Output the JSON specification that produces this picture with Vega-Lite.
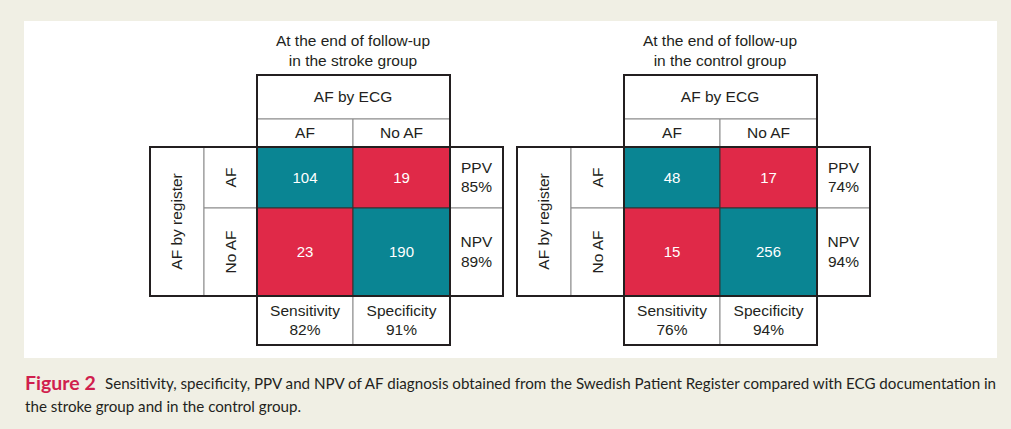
{
  "$schema": "https://vega.github.io/schema/vega-lite/v6.json",
  "width": 973,
  "height": 337,
  "autosize": {"type": "none"},
  "padding": {"left": 24, "top": 21, "right": 14, "bottom": 71},
  "background": "#f0efe4",
  "view": {"fill": "white", "stroke": null},
  "datasets": {
    "cells": [
      {"group": "stroke", "ecg": "AF", "register": "AF", "n": 104, "agree": "yes", "c": 2, "c2": 3, "r": 2, "r2": 3, "xm": 2.5, "ym": 2.5},
      {"group": "stroke", "ecg": "No AF", "register": "AF", "n": 19, "agree": "no", "c": 3, "c2": 4, "r": 2, "r2": 3, "xm": 3.5, "ym": 2.5},
      {"group": "stroke", "ecg": "AF", "register": "No AF", "n": 23, "agree": "no", "c": 2, "c2": 3, "r": 3, "r2": 4, "xm": 2.5, "ym": 3.5},
      {"group": "stroke", "ecg": "No AF", "register": "No AF", "n": 190, "agree": "yes", "c": 3, "c2": 4, "r": 3, "r2": 4, "xm": 3.5, "ym": 3.5},
      {"group": "control", "ecg": "AF", "register": "AF", "n": 48, "agree": "yes", "c": 12, "c2": 13, "r": 2, "r2": 3, "xm": 12.5, "ym": 2.5},
      {"group": "control", "ecg": "No AF", "register": "AF", "n": 17, "agree": "no", "c": 13, "c2": 14, "r": 2, "r2": 3, "xm": 13.5, "ym": 2.5},
      {"group": "control", "ecg": "AF", "register": "No AF", "n": 15, "agree": "no", "c": 12, "c2": 13, "r": 3, "r2": 4, "xm": 12.5, "ym": 3.5},
      {"group": "control", "ecg": "No AF", "register": "No AF", "n": 256, "agree": "yes", "c": 13, "c2": 14, "r": 3, "r2": 4, "xm": 13.5, "ym": 3.5}
    ],
    "boxes": [
      {"part": "ecg", "c": 2, "c2": 4, "r": 0, "r2": 1},
      {"part": "ecg AF", "c": 2, "c2": 3, "r": 1, "r2": 2},
      {"part": "ecg No AF", "c": 3, "c2": 4, "r": 1, "r2": 2},
      {"part": "register", "c": 0, "c2": 1, "r": 2, "r2": 4},
      {"part": "register AF", "c": 1, "c2": 2, "r": 2, "r2": 3},
      {"part": "register No AF", "c": 1, "c2": 2, "r": 3, "r2": 4},
      {"part": "PPV", "c": 4, "c2": 5, "r": 2, "r2": 3},
      {"part": "NPV", "c": 4, "c2": 5, "r": 3, "r2": 4},
      {"part": "sensitivity", "c": 2, "c2": 3, "r": 4, "r2": 5},
      {"part": "specificity", "c": 3, "c2": 4, "r": 4, "r2": 5},
      {"part": "ecg", "c": 12, "c2": 14, "r": 0, "r2": 1},
      {"part": "ecg AF", "c": 12, "c2": 13, "r": 1, "r2": 2},
      {"part": "ecg No AF", "c": 13, "c2": 14, "r": 1, "r2": 2},
      {"part": "register", "c": 10, "c2": 11, "r": 2, "r2": 4},
      {"part": "register AF", "c": 11, "c2": 12, "r": 2, "r2": 3},
      {"part": "register No AF", "c": 11, "c2": 12, "r": 3, "r2": 4},
      {"part": "PPV", "c": 14, "c2": 15, "r": 2, "r2": 3},
      {"part": "NPV", "c": 14, "c2": 15, "r": 3, "r2": 4},
      {"part": "sensitivity", "c": 12, "c2": 13, "r": 4, "r2": 5},
      {"part": "specificity", "c": 13, "c2": 14, "r": 4, "r2": 5}
    ],
    "outlines": [
      {"c": 2, "c2": 4, "r": 0, "r2": 2},
      {"c": 0, "c2": 5, "r": 2, "r2": 4},
      {"c": 2, "c2": 4, "r": 2, "r2": 4},
      {"c": 2, "c2": 4, "r": 4, "r2": 5},
      {"c": 12, "c2": 14, "r": 0, "r2": 2},
      {"c": 10, "c2": 15, "r": 2, "r2": 4},
      {"c": 12, "c2": 14, "r": 2, "r2": 4},
      {"c": 12, "c2": 14, "r": 4, "r2": 5}
    ],
    "labels": [
      {"kind": "two", "label": "At the end of follow-up\nin the stroke group", "xm": 3, "ym": -1.5},
      {"kind": "one", "label": "AF by ECG", "xm": 3, "ym": 0.5},
      {"kind": "one", "label": "AF", "xm": 2.5, "ym": 1.5},
      {"kind": "one", "label": "No AF", "xm": 3.5, "ym": 1.5},
      {"kind": "two", "label": "PPV\n85%", "xm": 4.5, "ym": 2.5},
      {"kind": "two", "label": "NPV\n89%", "xm": 4.5, "ym": 3.5},
      {"kind": "two", "label": "Sensitivity\n82%", "xm": 2.5, "ym": 4.5},
      {"kind": "two", "label": "Specificity\n91%", "xm": 3.5, "ym": 4.5},
      {"kind": "rot", "label": "AF by register", "xm": 0.5, "ym": 3.153},
      {"kind": "rot", "label": "AF", "xm": 1.5, "ym": 2.5},
      {"kind": "rot", "label": "No AF", "xm": 1.5, "ym": 3.5},
      {"kind": "two", "label": "At the end of follow-up\nin the control group", "xm": 13, "ym": -1.5},
      {"kind": "one", "label": "AF by ECG", "xm": 13, "ym": 0.5},
      {"kind": "one", "label": "AF", "xm": 12.5, "ym": 1.5},
      {"kind": "one", "label": "No AF", "xm": 13.5, "ym": 1.5},
      {"kind": "two", "label": "PPV\n74%", "xm": 14.5, "ym": 2.5},
      {"kind": "two", "label": "NPV\n94%", "xm": 14.5, "ym": 3.5},
      {"kind": "two", "label": "Sensitivity\n76%", "xm": 12.5, "ym": 4.5},
      {"kind": "two", "label": "Specificity\n94%", "xm": 13.5, "ym": 4.5},
      {"kind": "rot", "label": "AF by register", "xm": 10.5, "ym": 3.153},
      {"kind": "rot", "label": "AF", "xm": 11.5, "ym": 2.5},
      {"kind": "rot", "label": "No AF", "xm": 11.5, "ym": 3.5},
      {"kind": "fig", "label": "Figure 2", "xm": -5, "ym": 6},
      {"kind": "cap", "label": "Sensitivity, specificity, PPV and NPV of AF diagnosis obtained from the Swedish Patient Register compared with ECG documentation in", "xm": -4, "ym": 6},
      {"kind": "cap", "label": "the stroke group and in the control group.", "xm": -5, "ym": 7}
    ]
  },
  "layer": [
    {
      "data": {"name": "boxes"},
      "mark": {"type": "rect", "fill": "white", "stroke": "#8a8a8a", "strokeWidth": 1},
      "encoding": {
        "x": {"field": "c", "type": "quantitative", "axis": null, "scale": {"type": "linear", "domain": [-5, -4, 0, 1, 2, 3, 4, 5, 10, 11, 12, 13, 14, 15, 20], "range": [1, 81, 126, 180, 233, 329, 426, 479, 493, 547, 600, 696, 793, 846, 973], "nice": false, "zero": false}},
        "x2": {"field": "c2"},
        "y": {"field": "r", "type": "quantitative", "axis": null, "scale": {"type": "linear", "domain": [-2, -1, 0, 1, 2, 3, 4, 5, 6, 7], "range": [20, 40, 54, 98, 126, 187, 275, 324, 363, 386], "nice": false, "zero": false}},
        "y2": {"field": "r2"}
      }
    },
    {
      "data": {"name": "cells"},
      "mark": {"type": "rect", "stroke": "#333333", "strokeWidth": 1},
      "encoding": {
        "x": {"field": "c", "type": "quantitative", "axis": null},
        "x2": {"field": "c2"},
        "y": {"field": "r", "type": "quantitative", "axis": null},
        "y2": {"field": "r2"},
        "fill": {"field": "agree", "type": "nominal", "legend": null, "scale": {"domain": ["yes", "no"], "range": ["#0a8593", "#e02948"]}}
      }
    },
    {
      "data": {"name": "outlines"},
      "mark": {"type": "rect", "fill": null, "fillOpacity": 0, "stroke": "#231f20", "strokeWidth": 2},
      "encoding": {
        "x": {"field": "c", "type": "quantitative", "axis": null},
        "x2": {"field": "c2"},
        "y": {"field": "r", "type": "quantitative", "axis": null},
        "y2": {"field": "r2"}
      }
    },
    {
      "data": {"name": "cells"},
      "mark": {"type": "text", "font": "Liberation Sans", "color": "white", "fontSize": 15, "baseline": "middle", "align": "center"},
      "encoding": {
        "x": {"field": "xm", "type": "quantitative", "axis": null},
        "y": {"field": "ym", "type": "quantitative", "axis": null},
        "text": {"field": "n", "type": "quantitative"}
      }
    },
    {
      "data": {"name": "labels"},
      "transform": [{"filter": "datum.kind === 'one'"}],
      "mark": {"type": "text", "font": "Liberation Sans", "fontSize": 15.5, "color": "#231f20", "baseline": "middle", "align": "center"},
      "encoding": {
        "x": {"field": "xm", "type": "quantitative", "axis": null},
        "y": {"field": "ym", "type": "quantitative", "axis": null},
        "text": {"field": "label"}
      }
    },
    {
      "data": {"name": "labels"},
      "transform": [{"filter": "datum.kind === 'two'"}],
      "mark": {"type": "text", "font": "Liberation Sans", "fontSize": 15.5, "color": "#231f20", "baseline": "middle", "align": "center", "lineBreak": "\n", "lineHeight": 19.5, "dy": -9.75},
      "encoding": {
        "x": {"field": "xm", "type": "quantitative", "axis": null},
        "y": {"field": "ym", "type": "quantitative", "axis": null},
        "text": {"field": "label"}
      }
    },
    {
      "data": {"name": "labels"},
      "transform": [{"filter": "datum.kind === 'rot'"}],
      "mark": {"type": "text", "font": "Liberation Sans", "fontSize": 15.5, "color": "#231f20", "baseline": "middle", "align": "center", "angle": 270},
      "encoding": {
        "x": {"field": "xm", "type": "quantitative", "axis": null},
        "y": {"field": "ym", "type": "quantitative", "axis": null},
        "text": {"field": "label"}
      }
    },
    {
      "data": {"name": "labels"},
      "transform": [{"filter": "datum.kind === 'fig'"}],
      "mark": {"type": "text", "baseline": "middle", "align": "left", "font": "Lato", "fontWeight": "bold", "fontSize": 19.5, "color": "#d01f4e"},
      "encoding": {
        "x": {"field": "xm", "type": "quantitative", "axis": null},
        "y": {"field": "ym", "type": "quantitative", "axis": null},
        "text": {"field": "label"}
      }
    },
    {
      "data": {"name": "labels"},
      "transform": [{"filter": "datum.kind === 'cap'"}],
      "mark": {"type": "text", "baseline": "middle", "align": "left", "font": "Lato", "fontSize": 15.15, "color": "#231f20"},
      "encoding": {
        "x": {"field": "xm", "type": "quantitative", "axis": null},
        "y": {"field": "ym", "type": "quantitative", "axis": null},
        "text": {"field": "label"}
      }
    }
  ]
}
